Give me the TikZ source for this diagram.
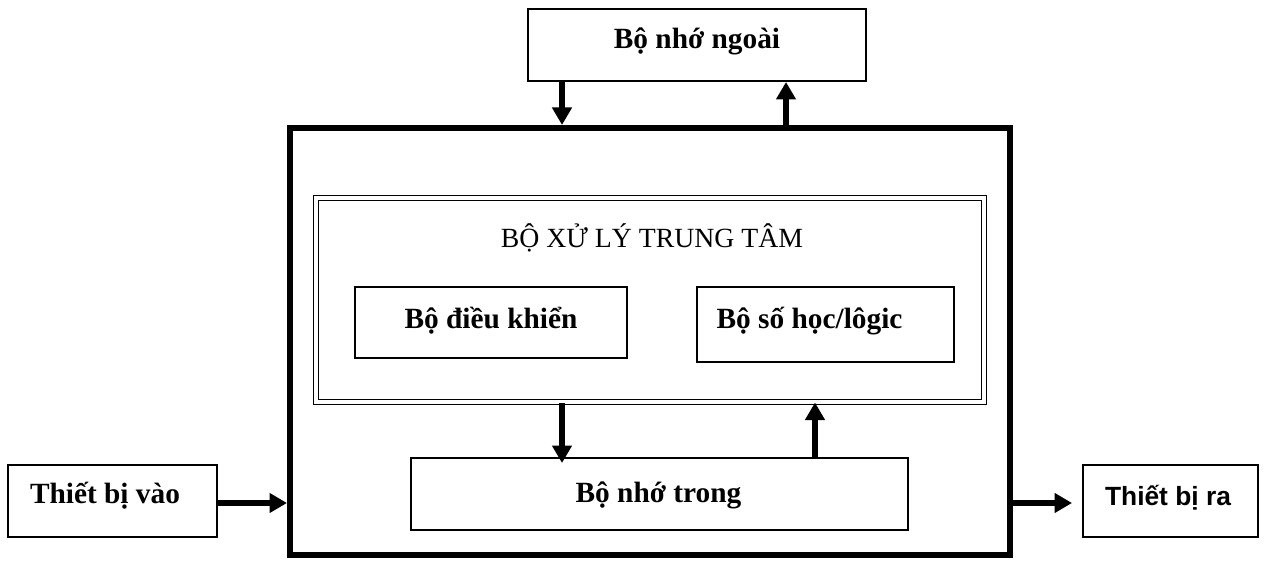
\documentclass[tikz,border=0pt]{standalone}
\usepackage{fontspec}
\setmainfont{Liberation Serif}
\newfontfamily\sansbold{Liberation Sans}
\usetikzlibrary{fit,arrows.meta}
\begin{document}
\begin{tikzpicture}[x=0.02cm,y=-0.02cm,
  box/.style={draw,line width=1.1pt,inner sep=0pt},
  lbl/.style={inner sep=0pt,anchor=base,font=\fontsize{16.7}{19}\selectfont\bfseries},
  outer/.style={draw,line width=0.12cm,inner sep=0pt},
  cpu/.style={draw,line width=0.6pt,double,double distance=1.8pt,inner sep=0pt},
  arr/.style={line width=0.115cm,-{Triangle[width=0.38cm,length=0.35cm]}}]
\useasboundingbox (0,0) rectangle (1265,563);
\node[box,fit={(528,9) (866,81)}] (ext) {};
\node[lbl] (text) at (697,49) {Bộ nhớ ngoài};
\node[outer,fit={(290,128) (1010,555)}] (main) {};
\node[cpu,fit={(316,198) (984,402)}] (cpu) {};
\node[inner sep=0pt,anchor=base,font=\fontsize{15.8}{18}\selectfont] (title) at (652,248) {BỘ XỬ LÝ TRUNG TÂM};
\node[box,fit={(355,287) (627,358)}] (ctrl) {};
\node[lbl] (tctrl) at (491,329) {Bộ điều khiển};
\node[box,fit={(697,287) (954,362)}] (alu) {};
\node[lbl] (talu) at (809.5,329) {Bộ số học/lôgic};
\node[box,fit={(411,458) (908,530)}] (mem) {};
\node[lbl] (tmem) at (658.5,503) {Bộ nhớ trong};
\node[box,fit={(8,465) (217,537)}] (in) {};
\node[lbl] (tin) at (105,504) {Thiết bị vào};
\node[box,fit={(1083,465) (1258,537)}] (out) {};
\node[lbl,font=\fontsize{15}{18}\selectfont\sansbold\bfseries] (tout) at (1168,506) {Thiết bị ra};
\coordinate (xa) at (562,0);
\coordinate (xb) at (786,0);
\coordinate (xc) at (815,0);
\coordinate (yio) at (0,503);
\draw[arr] (ext.south -| xa) -- (main.north -| xa);
\draw[arr] (main.north -| xb) -- (ext.south -| xb);
\draw[arr] (cpu.south -| xa) -- ([yshift=-0.12cm]mem.north -| xa);
\draw[arr] (mem.north -| xc) -- (cpu.south -| xc);
\draw[arr] (in.east |- yio) -- (main.west |- yio);
\draw[arr] (main.east |- yio) -- ([xshift=-0.2cm]out.west |- yio);
\end{tikzpicture}
\end{document}
